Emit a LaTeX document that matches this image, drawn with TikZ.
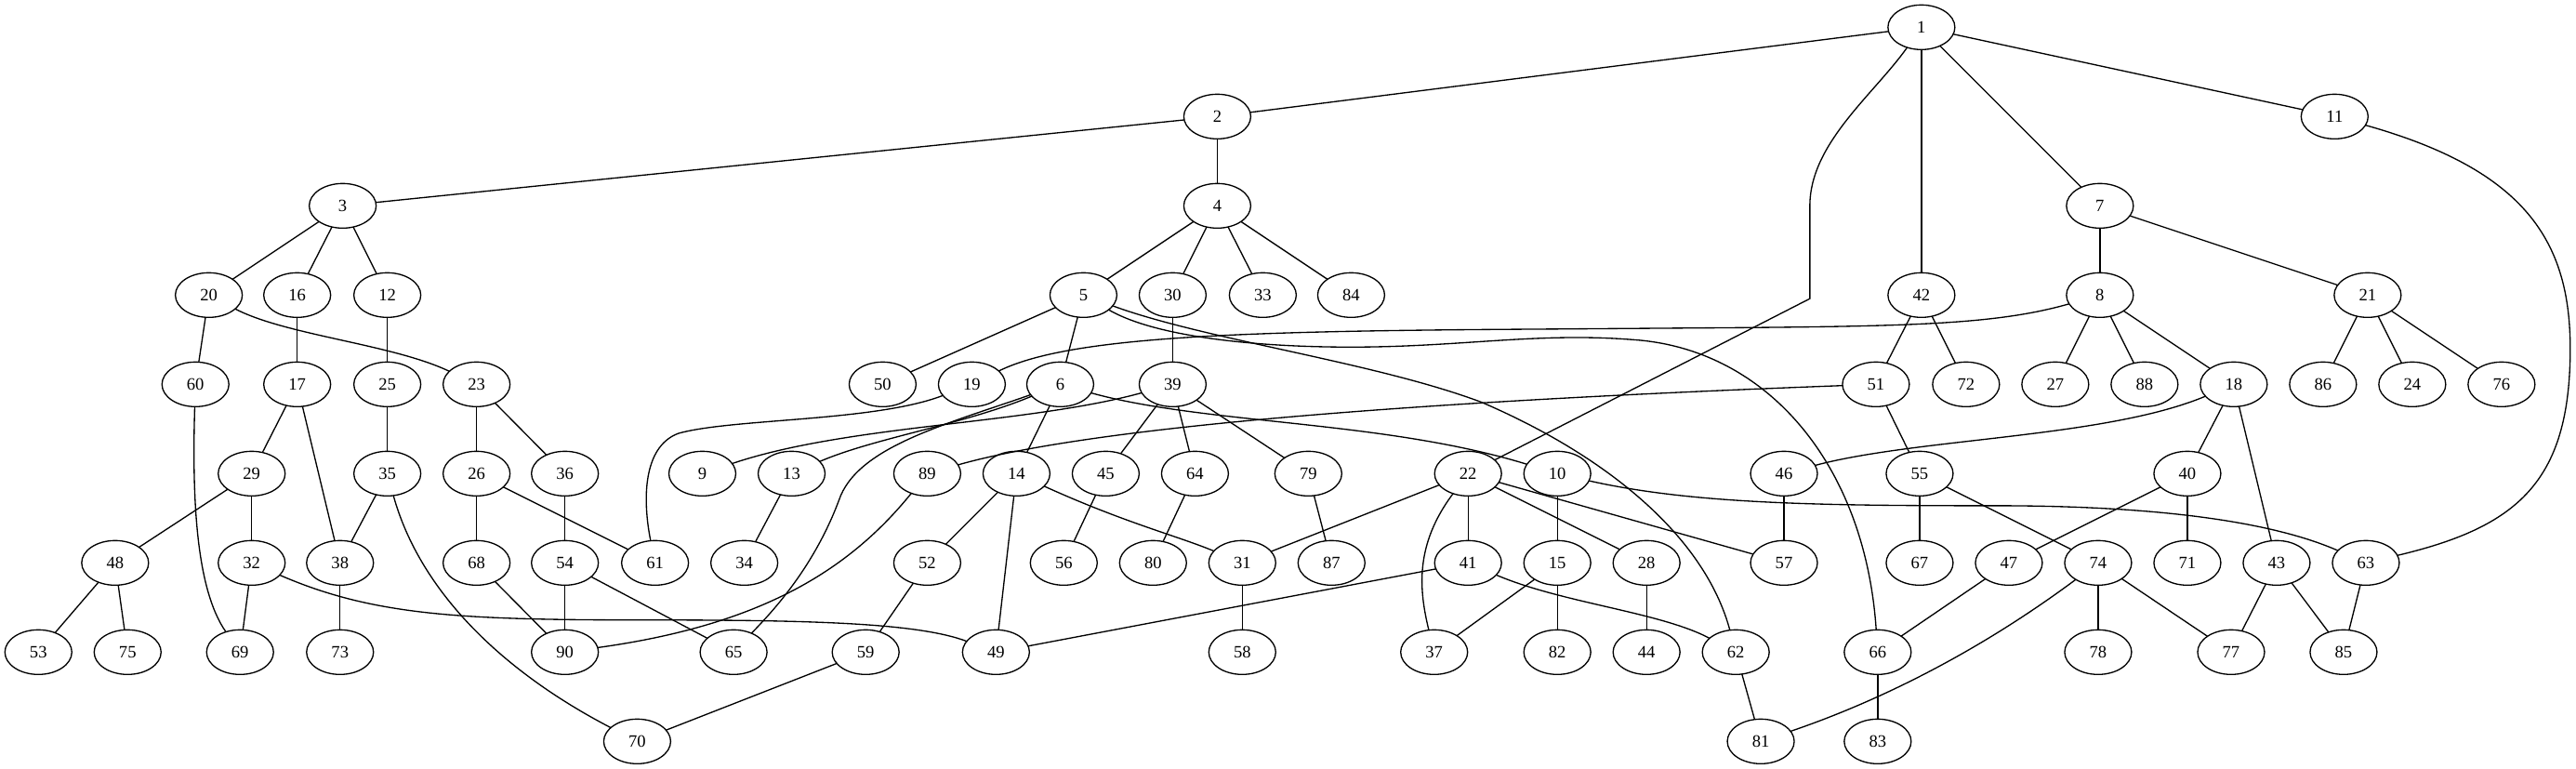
\documentclass[tikz,border=0pt]{standalone}
\usepackage{fontspec}
\setmainfont{Liberation Serif}
\usepackage{tkz-graph}
\usetikzlibrary{shapes.geometric}

\tikzset{VertexStyle/.style = {draw, shape = ellipse, minimum width = 0.75in,
    minimum height = 0.5in, inner sep = 0pt, line width = 1pt,
    font = \fontsize{14}{16}\selectfont}}

\begin{document}
\begin{tikzpicture}[x=1in,y=1in]
    \useasboundingbox (0,0.3056) rectangle (28.865,-8.309);

    \Vertex[x=21.53,y=0]{1}
    \Vertex[x=13.64,y=-1]{2}
    \Vertex[x=26.16,y=-1]{11}
    \Vertex[x=3.84,y=-2]{3}
    \Vertex[x=13.64,y=-2]{4}
    \Vertex[x=23.53,y=-2]{7}
    \Vertex[x=2.34,y=-3]{20}
    \Vertex[x=3.33,y=-3]{16}
    \Vertex[x=4.34,y=-3]{12}
    \Vertex[x=12.14,y=-3]{5}
    \Vertex[x=13.14,y=-3]{30}
    \Vertex[x=14.15,y=-3]{33}
    \Vertex[x=15.14,y=-3]{84}
    \Vertex[x=21.53,y=-3]{42}
    \Vertex[x=23.53,y=-3]{8}
    \Vertex[x=26.53,y=-3]{21}
    \Vertex[x=2.19,y=-4]{60}
    \Vertex[x=3.33,y=-4]{17}
    \Vertex[x=4.34,y=-4]{25}
    \Vertex[x=5.34,y=-4]{23}
    \Vertex[x=9.89,y=-4]{50}
    \Vertex[x=10.89,y=-4]{19}
    \Vertex[x=11.88,y=-4]{6}
    \Vertex[x=13.14,y=-4]{39}
    \Vertex[x=21.02,y=-4]{51}
    \Vertex[x=22.03,y=-4]{72}
    \Vertex[x=23.03,y=-4]{27}
    \Vertex[x=24.03,y=-4]{88}
    \Vertex[x=25.03,y=-4]{18}
    \Vertex[x=26.03,y=-4]{86}
    \Vertex[x=27.03,y=-4]{24}
    \Vertex[x=28.03,y=-4]{76}
    \Vertex[x=2.82,y=-5]{29}
    \Vertex[x=4.34,y=-5]{35}
    \Vertex[x=5.34,y=-5]{26}
    \Vertex[x=6.33,y=-5]{36}
    \Vertex[x=7.87,y=-5]{9}
    \Vertex[x=8.87,y=-5]{13}
    \Vertex[x=10.39,y=-5]{89}
    \Vertex[x=11.39,y=-5]{14}
    \Vertex[x=12.39,y=-5]{45}
    \Vertex[x=13.39,y=-5]{64}
    \Vertex[x=14.66,y=-5]{79}
    \Vertex[x=16.45,y=-5]{22}
    \Vertex[x=17.45,y=-5]{10}
    \Vertex[x=19.99,y=-5]{46}
    \Vertex[x=21.51,y=-5]{55}
    \Vertex[x=24.51,y=-5]{40}
    \Vertex[x=1.29,y=-6]{48}
    \Vertex[x=2.82,y=-6]{32}
    \Vertex[x=3.81,y=-6]{38}
    \Vertex[x=5.34,y=-6]{68}
    \Vertex[x=6.33,y=-6]{54}
    \Vertex[x=7.34,y=-6]{61}
    \Vertex[x=8.34,y=-6]{34}
    \Vertex[x=10.39,y=-6]{52}
    \Vertex[x=11.92,y=-6]{56}
    \Vertex[x=12.92,y=-6]{80}
    \Vertex[x=13.92,y=-6]{31}
    \Vertex[x=14.92,y=-6]{87}
    \Vertex[x=16.45,y=-6]{41}
    \Vertex[x=17.45,y=-6]{15}
    \Vertex[x=18.45,y=-6]{28}
    \Vertex[x=19.99,y=-6]{57}
    \Vertex[x=21.51,y=-6]{67}
    \Vertex[x=22.51,y=-6]{47}
    \Vertex[x=23.51,y=-6]{74}
    \Vertex[x=24.51,y=-6]{71}
    \Vertex[x=25.51,y=-6]{43}
    \Vertex[x=26.51,y=-6]{63}
    \Vertex[x=0.43,y=-7]{53}
    \Vertex[x=1.43,y=-7]{75}
    \Vertex[x=2.69,y=-7]{69}
    \Vertex[x=3.81,y=-7]{73}
    \Vertex[x=6.33,y=-7]{90}
    \Vertex[x=8.22,y=-7]{65}
    \Vertex[x=9.70,y=-7]{59}
    \Vertex[x=11.16,y=-7]{49}
    \Vertex[x=13.92,y=-7]{58}
    \Vertex[x=16.07,y=-7]{37}
    \Vertex[x=17.45,y=-7]{82}
    \Vertex[x=18.45,y=-7]{44}
    \Vertex[x=19.45,y=-7]{62}
    \Vertex[x=21.04,y=-7]{66}
    \Vertex[x=23.51,y=-7]{78}
    \Vertex[x=25.00,y=-7]{77}
    \Vertex[x=26.26,y=-7]{85}
    \Vertex[x=7.14,y=-8]{70}
    \Vertex[x=19.73,y=-8]{81}
    \Vertex[x=21.04,y=-8]{83}
    \tikzset{EdgeStyle/.style = {draw, black, line width = 1pt}}
    \Edge(1)(2)
    \Edge(1)(11)
    \Edge(1)(7)
    \Edge(1)(42)
    \Edge(2)(3)
    \Edge(2)(4)
    \Edge(3)(20)
    \Edge(3)(16)
    \Edge(3)(12)
    \Edge(4)(5)
    \Edge(4)(30)
    \Edge(4)(33)
    \Edge(4)(84)
    \Edge(7)(8)
    \Edge(7)(21)
    \Edge(20)(60)
    \Edge(16)(17)
    \Edge(12)(25)
    \Edge(5)(50)
    \Edge(5)(6)
    \Edge(30)(39)
    \Edge(42)(51)
    \Edge(42)(72)
    \Edge(8)(27)
    \Edge(8)(88)
    \Edge(8)(18)
    \Edge(21)(86)
    \Edge(21)(24)
    \Edge(21)(76)
    \Edge(17)(29)
    \Edge(17)(38)
    \Edge(25)(35)
    \Edge(23)(26)
    \Edge(23)(36)
    \Edge(6)(14)
    \Edge(39)(45)
    \Edge(39)(64)
    \Edge(39)(79)
    \Edge(14)(52)
    \Edge(14)(49)
    \Edge(13)(34)
    \Edge(45)(56)
    \Edge(64)(80)
    \Edge(79)(87)
    \Edge(52)(59)
    \Edge(59)(70)
    \Edge(31)(58)
    \Edge(22)(31)
    \Edge(22)(41)
    \Edge(22)(28)
    \Edge(22)(57)
    \Edge(10)(15)
    \Edge(15)(37)
    \Edge(15)(82)
    \Edge(28)(44)
    \Edge(41)(49)
    \Edge(46)(57)
    \Edge(18)(40)
    \Edge(18)(43)
    \Edge(51)(55)
    \Edge(55)(67)
    \Edge(55)(74)
    \Edge(40)(47)
    \Edge(40)(71)
    \Edge(47)(66)
    \Edge(74)(78)
    \Edge(74)(77)
    \Edge(43)(77)
    \Edge(43)(85)
    \Edge(63)(85)
    \Edge(62)(81)
    \Edge(66)(83)
    \Edge(29)(48)
    \Edge(29)(32)
    \Edge(35)(38)
    \Edge(26)(68)
    \Edge(26)(61)
    \Edge(36)(54)
    \Edge(48)(53)
    \Edge(48)(75)
    \Edge(32)(69)
    \Edge(38)(73)
    \Edge(68)(90)
    \Edge(54)(90)
    \Edge(54)(65)
    % routed edges
    \draw[EdgeStyle] (1) .. controls (21.0,-0.75) and (20.28,-1.3) .. (20.28,-2.0) -- (20.28,-3.04) -- (22);
    \draw[EdgeStyle] (11) .. controls (28.3,-1.6) and (28.8,-2.4) .. (28.8,-3.6) .. controls (28.8,-5.1) and (28.2,-5.6) .. (63);
    \draw[EdgeStyle] (8) .. controls (22.2,-3.38) and (21.0,-3.35) .. (17.5,-3.38) .. controls (14.0,-3.4) and (12.0,-3.45) .. (19);
    \draw[EdgeStyle] (5) .. controls (13.5,-3.5) and (15.4,-3.75) .. (16.6,-4.2) .. controls (18.0,-4.8) and (19.1,-5.7) .. (62);
    \draw[EdgeStyle] (5) .. controls (13.0,-3.5) and (14.3,-3.6) .. (15.4,-3.58) .. controls (16.5,-3.56) and (17.3,-3.42) .. (18.3,-3.5) .. controls (19.8,-3.6) and (20.9,-4.9) .. (66);
    \draw[EdgeStyle] (20) .. controls (3.2,-3.45) and (4.4,-3.55) .. (23);
    \draw[EdgeStyle] (60) .. controls (2.15,-5.3) and (2.2,-6.3) .. (69);
    \draw[EdgeStyle] (32) .. controls (4.2,-6.6) and (5.2,-6.64) .. (7.3,-6.64) .. controls (9.2,-6.64) and (10.3,-6.68) .. (49);
    \draw[EdgeStyle] (35) .. controls (4.7,-6.3) and (5.6,-7.2) .. (70);
    \draw[EdgeStyle] (89) .. controls (9.5,-6.1) and (8.5,-6.7) .. (90);
    \draw[EdgeStyle] (41) .. controls (17.5,-6.45) and (18.6,-6.55) .. (62);
    \draw[EdgeStyle] (22) .. controls (15.85,-5.8) and (15.9,-6.3) .. (37);
    \draw[EdgeStyle] (10) .. controls (19.0,-5.35) and (20.5,-5.36) .. (22.5,-5.36) .. controls (24.5,-5.37) and (25.6,-5.6) .. (63);
    \draw[EdgeStyle] (6) .. controls (13.5,-4.45) and (15.5,-4.4) .. (10);
    \draw[EdgeStyle] (51) .. controls (17.0,-4.15) and (12.5,-4.4) .. (89);
    \draw[EdgeStyle] (39) .. controls (11.5,-4.45) and (9.5,-4.45) .. (9);
    \draw[EdgeStyle] (6) .. controls (10.8,-4.45) and (9.8,-4.6) .. (13);
    \draw[EdgeStyle] (6) .. controls (10.6,-4.45) and (9.6,-4.7) .. (9.4,-5.3) .. controls (9.1,-6.1) and (8.6,-6.6) .. (65);
    \draw[EdgeStyle] (19) .. controls (9.8,-4.42) and (8.2,-4.38) .. (7.6,-4.55) .. controls (7.2,-4.7) and (7.2,-5.3) .. (61);
    \draw[EdgeStyle] (14) .. controls (12.6,-5.55) and (13.2,-5.7) .. (31);
    \draw[EdgeStyle] (18) .. controls (23.6,-4.6) and (21.5,-4.6) .. (46);
    \draw[EdgeStyle] (74) .. controls (22.3,-6.9) and (21.2,-7.5) .. (81);

\end{tikzpicture}
\end{document}
